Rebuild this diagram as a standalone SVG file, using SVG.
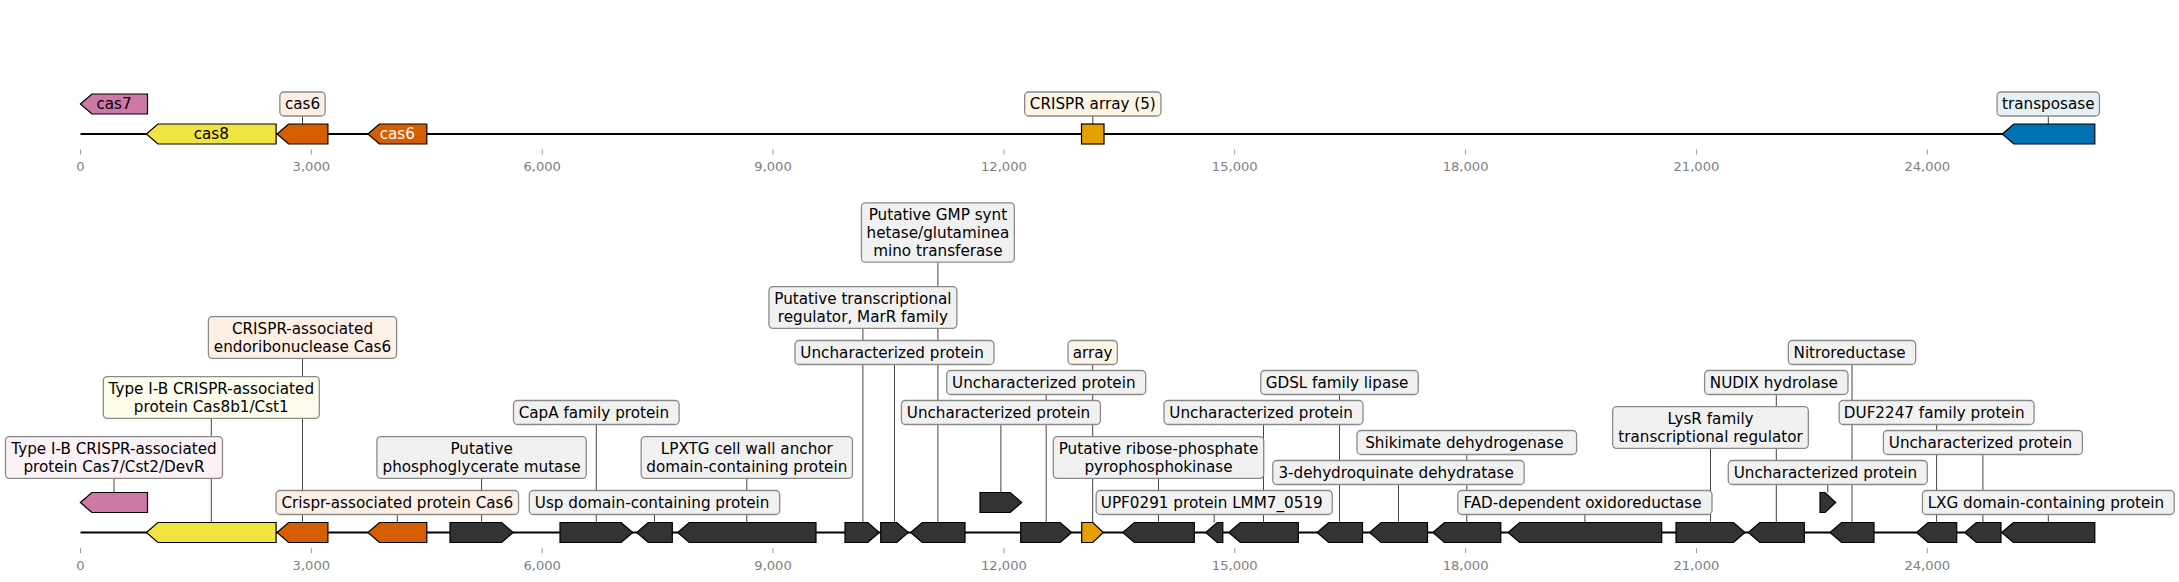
<svg xmlns="http://www.w3.org/2000/svg" width="2179" height="582" viewBox="0 0 2179 582">
<style>
.t{font-family:"DejaVu Sans",sans-serif;font-size:15.2px;fill:#000;text-anchor:middle}
.tw{font-family:"DejaVu Sans",sans-serif;font-size:15.2px;fill:#fff;text-anchor:middle}
.tk{font-family:"DejaVu Sans",sans-serif;font-size:13.1px;fill:#808080;text-anchor:middle}
.g{stroke:#000;stroke-width:1.2;stroke-linejoin:miter}
.d{fill:#333333}
.cp{fill:#CC79A7}.cy{fill:#F0E442}.cv{fill:#D55E00}.co{fill:#E69F00}.cb{fill:#0072B2}
.bx{stroke:#8a8a8a;stroke-width:1.3}
.fg{fill:#f1f1f1}.fv{fill:#fcf0e6}.fo{fill:#fcf5e6}.fp{fill:#faf2f6}.fy{fill:#fefcec}.fb{fill:#e6f1f7}
.ax{stroke:#000;stroke-width:2}
.tm{stroke:#9a9a9a;stroke-width:1}
#connectors line{stroke:#444;stroke-width:1}
</style>

<!-- axes -->
<g id="axes">
<line class="ax" x1="80.5" y1="134" x2="2094.8" y2="134"/>
<line class="ax" x1="80.5" y1="532.5" x2="2094.8" y2="532.5"/>
<g id="ticks-top">
<line class="tm" x1="80.5" y1="149.5" x2="80.5" y2="154.5"/>
<line class="tm" x1="311.35" y1="149.5" x2="311.35" y2="154.5"/>
<line class="tm" x1="542.2" y1="149.5" x2="542.2" y2="154.5"/>
<line class="tm" x1="773.05" y1="149.5" x2="773.05" y2="154.5"/>
<line class="tm" x1="1003.9" y1="149.5" x2="1003.9" y2="154.5"/>
<line class="tm" x1="1234.75" y1="149.5" x2="1234.75" y2="154.5"/>
<line class="tm" x1="1465.6" y1="149.5" x2="1465.6" y2="154.5"/>
<line class="tm" x1="1696.45" y1="149.5" x2="1696.45" y2="154.5"/>
<line class="tm" x1="1927.3" y1="149.5" x2="1927.3" y2="154.5"/>
<text class="tk" x="80.5" y="170.5">0</text>
<text class="tk" x="311.35" y="170.5">3,000</text>
<text class="tk" x="542.2" y="170.5">6,000</text>
<text class="tk" x="773.05" y="170.5">9,000</text>
<text class="tk" x="1003.9" y="170.5">12,000</text>
<text class="tk" x="1234.75" y="170.5">15,000</text>
<text class="tk" x="1465.6" y="170.5">18,000</text>
<text class="tk" x="1696.45" y="170.5">21,000</text>
<text class="tk" x="1927.3" y="170.5">24,000</text>
</g>
<g id="ticks-bottom">
<line class="tm" x1="80.5" y1="548.2" x2="80.5" y2="553.2"/>
<line class="tm" x1="311.35" y1="548.2" x2="311.35" y2="553.2"/>
<line class="tm" x1="542.2" y1="548.2" x2="542.2" y2="553.2"/>
<line class="tm" x1="773.05" y1="548.2" x2="773.05" y2="553.2"/>
<line class="tm" x1="1003.9" y1="548.2" x2="1003.9" y2="553.2"/>
<line class="tm" x1="1234.75" y1="548.2" x2="1234.75" y2="553.2"/>
<line class="tm" x1="1465.6" y1="548.2" x2="1465.6" y2="553.2"/>
<line class="tm" x1="1696.45" y1="548.2" x2="1696.45" y2="553.2"/>
<line class="tm" x1="1927.3" y1="548.2" x2="1927.3" y2="553.2"/>
<text class="tk" x="80.5" y="569.5">0</text>
<text class="tk" x="311.35" y="569.5">3,000</text>
<text class="tk" x="542.2" y="569.5">6,000</text>
<text class="tk" x="773.05" y="569.5">9,000</text>
<text class="tk" x="1003.9" y="569.5">12,000</text>
<text class="tk" x="1234.75" y="569.5">15,000</text>
<text class="tk" x="1465.6" y="569.5">18,000</text>
<text class="tk" x="1696.45" y="569.5">21,000</text>
<text class="tk" x="1927.3" y="569.5">24,000</text>
</g>
</g>

<g id="connectors">
<line x1="302.5" y1="116" x2="302.5" y2="124"/>
<line x1="1092.8" y1="116" x2="1092.8" y2="124"/>
<line x1="2048.3" y1="116" x2="2048.3" y2="124"/>
<line x1="114" y1="478.35" x2="114" y2="492.5"/>
<line x1="211.3" y1="418.35" x2="211.3" y2="522.5"/>
<line x1="302.5" y1="358.35" x2="302.5" y2="522.5"/>
<line x1="397.3" y1="514.5" x2="397.3" y2="522.5"/>
<line x1="481.6" y1="478.35" x2="481.6" y2="522.5"/>
<line x1="596.3" y1="424.5" x2="596.3" y2="522.5"/>
<line x1="654.5" y1="514.5" x2="654.5" y2="522.5"/>
<line x1="746.8" y1="478.35" x2="746.8" y2="522.5"/>
<line x1="862.9" y1="328.35" x2="862.9" y2="522.5"/>
<line x1="894.5" y1="364.5" x2="894.5" y2="522.5"/>
<line x1="937.9" y1="262.2" x2="937.9" y2="522.5"/>
<line x1="1000.9" y1="424.5" x2="1000.9" y2="492.5"/>
<line x1="1046.2" y1="394.5" x2="1046.2" y2="522.5"/>
<line x1="1092.7" y1="364.5" x2="1092.7" y2="522.5"/>
<line x1="1158.5" y1="478.35" x2="1158.5" y2="522.5"/>
<line x1="1214.2" y1="514.5" x2="1214.2" y2="522.5"/>
<line x1="1263.5" y1="424.5" x2="1263.5" y2="522.5"/>
<line x1="1339.5" y1="394.5" x2="1339.5" y2="522.5"/>
<line x1="1398.5" y1="484.5" x2="1398.5" y2="522.5"/>
<line x1="1466.8" y1="454.5" x2="1466.8" y2="522.5"/>
<line x1="1584.9" y1="514.5" x2="1584.9" y2="522.5"/>
<line x1="1710.5" y1="448.35" x2="1710.5" y2="522.5"/>
<line x1="1776.3" y1="394.5" x2="1776.3" y2="522.5"/>
<line x1="1827.8" y1="484.5" x2="1827.8" y2="492.5"/>
<line x1="1852" y1="364.5" x2="1852" y2="522.5"/>
<line x1="1936.6" y1="424.5" x2="1936.6" y2="522.5"/>
<line x1="1982.9" y1="454.5" x2="1982.9" y2="522.5"/>
<line x1="2048.3" y1="514.5" x2="2048.3" y2="522.5"/>
</g>

<!-- top track -->
<g id="top-cas7"><polygon class="g cp" points="80.4,104 91.9,94 147.5,94 147.5,114 91.9,114"/><text class="t" x="114" y="109.3">cas7</text></g>
<g id="top-cas8"><polygon class="g cy" points="146.4,134 157.9,124 276.1,124 276.1,144 157.9,144"/><text class="t" x="211.3" y="139.3">cas8</text></g>
<g id="top-cas6a"><polygon class="g cv" points="277.1,134 288.6,124 327.9,124 327.9,144 288.6,144"/><rect class="bx fv" x="279.85" y="92" width="45.3" height="24" rx="4"/><text class="t" x="302.5" y="109.3">cas6</text></g>
<g id="top-cas6b"><polygon class="g cv" points="367.9,134 379.4,124 426.8,124 426.8,144 379.4,144"/><text class="tw" x="397.3" y="139.3">cas6</text></g>
<g id="top-array"><rect class="g co" x="1081.5" y="124" width="22.5" height="20"/><rect class="bx fo" x="1024.65" y="92" width="136.3" height="24" rx="4"/><text class="t" x="1092.8" y="109.3">CRISPR array (5)</text></g>
<g id="top-transposase"><polygon class="g cb" points="2002.3,134 2013.8,124 2094.8,124 2094.8,144 2013.8,144"/><rect class="bx fb" x="1997.15" y="92" width="102.3" height="24" rx="4"/><text class="t" x="2048.3" y="109.3">transposase</text></g>

<!-- bottom track -->
<g id="g1"><polygon class="g cp" points="80.4,502.5 91.9,492.5 147.5,492.5 147.5,512.5 91.9,512.5"/><rect class="bx fp" x="5.5" y="436.65" width="217" height="41.7" rx="4"/><text class="t" x="114" y="453.95">Type I-B CRISPR-associated<tspan x="114" y="471.65">protein Cas7/Cst2/DevR</tspan></text></g>
<g id="g2"><polygon class="g cy" points="146.4,532.5 157.9,522.5 276.1,522.5 276.1,542.5 157.9,542.5"/><rect class="bx fy" x="103.3" y="376.65" width="216" height="41.7" rx="4"/><text class="t" x="211.3" y="393.95">Type I-B CRISPR-associated<tspan x="211.3" y="411.65">protein Cas8b1/Cst1</tspan></text></g>
<g id="g3"><polygon class="g cv" points="277.1,532.5 288.6,522.5 327.9,522.5 327.9,542.5 288.6,542.5"/><rect class="bx fv" x="208.4" y="316.65" width="188.2" height="41.7" rx="4"/><text class="t" x="302.5" y="333.95">CRISPR-associated<tspan x="302.5" y="351.65">endoribonuclease Cas6</tspan></text></g>
<g id="g4"><polygon class="g cv" points="367.9,532.5 379.4,522.5 426.8,522.5 426.8,542.5 379.4,542.5"/><rect class="bx fv" x="276.05" y="490.5" width="242.5" height="24" rx="4"/><text class="t" x="397.3" y="507.8">Crispr-associated protein Cas6</text></g>
<g id="g5"><polygon class="g d" points="450,522.5 501.7,522.5 513.2,532.5 501.7,542.5 450,542.5"/><rect class="bx fg" x="376.9" y="436.65" width="209.4" height="41.7" rx="4"/><text class="t" x="481.6" y="453.95">Putative<tspan x="481.6" y="471.65">phosphoglycerate mutase</tspan></text></g>
<g id="g6"><polygon class="g d" points="560,522.5 621.2,522.5 632.7,532.5 621.2,542.5 560,542.5"/><rect class="bx fg" x="513.5" y="400.5" width="165.6" height="24" rx="4"/><text class="t" x="593.9" y="417.8">CapA family protein</text></g>
<g id="g7"><polygon class="g d" points="636.7,532.5 648.2,522.5 672.3,522.5 672.3,542.5 648.2,542.5"/><rect class="bx fg" x="529.3" y="490.5" width="250.4" height="24" rx="4"/><text class="t" x="652.1" y="507.8">Usp domain-containing protein</text></g>
<g id="g8"><polygon class="g d" points="677.7,532.5 689.2,522.5 816,522.5 816,542.5 689.2,542.5"/><rect class="bx fg" x="641.15" y="436.65" width="211.3" height="41.7" rx="4"/><text class="t" x="746.8" y="453.95">LPXTG cell wall anchor<tspan x="746.8" y="471.65">domain-containing protein</tspan></text></g>
<g id="g9"><polygon class="g d" points="845,522.5 867.8,522.5 879.3,532.5 867.8,542.5 845,542.5"/><rect class="bx fg" x="768.95" y="286.65" width="187.9" height="41.7" rx="4"/><text class="t" x="862.9" y="303.95">Putative transcriptional<tspan x="862.9" y="321.65">regulator, MarR family</tspan></text></g>
<g id="g10"><polygon class="g d" points="880.7,522.5 896.8,522.5 908.3,532.5 896.8,542.5 880.7,542.5"/><rect class="bx fg" x="795" y="340.5" width="199" height="24" rx="4"/><text class="t" x="892.1" y="357.8">Uncharacterized protein</text></g>
<g id="g11"><polygon class="g d" points="910.7,532.5 922.2,522.5 965,522.5 965,542.5 922.2,542.5"/><rect class="bx fg" x="861.45" y="202.8" width="152.9" height="59.4" rx="4"/><text class="t" x="937.9" y="220.1">Putative GMP synt<tspan x="937.9" y="237.8">hetase/glutaminea</tspan><tspan x="937.9" y="255.5">mino transferase</tspan></text></g>
<g id="g12"><polygon class="g d" points="980,492.5 1010.2,492.5 1021.7,502.5 1010.2,512.5 980,512.5"/><rect class="bx fg" x="901.4" y="400.5" width="199" height="24" rx="4"/><text class="t" x="998.5" y="417.8">Uncharacterized protein</text></g>
<g id="g13"><polygon class="g d" points="1020.7,522.5 1060.2,522.5 1071.7,532.5 1060.2,542.5 1020.7,542.5"/><rect class="bx fg" x="946.7" y="370.5" width="199" height="24" rx="4"/><text class="t" x="1043.8" y="387.8">Uncharacterized protein</text></g>
<g id="g14"><polygon class="g co" points="1081.7,522.5 1092.8,522.5 1103.3,532.5 1092.8,542.5 1081.7,542.5"/><rect class="bx fo" x="1068.05" y="340.5" width="49.3" height="24" rx="4"/><text class="t" x="1092.7" y="357.8">array</text></g>
<g id="g15"><polygon class="g d" points="1122.8,532.5 1134.3,522.5 1194.3,522.5 1194.3,542.5 1134.3,542.5"/><rect class="bx fg" x="1053.3" y="436.65" width="210.4" height="41.7" rx="4"/><text class="t" x="1158.5" y="453.95">Putative ribose-phosphate<tspan x="1158.5" y="471.65">pyrophosphokinase</tspan></text></g>
<g id="g16"><polygon class="g d" points="1205.7,532.5 1217.2,522.5 1222.8,522.5 1222.8,542.5 1217.2,542.5"/><rect class="bx fg" x="1096.15" y="490.5" width="236.1" height="24" rx="4"/><text class="t" x="1211.8" y="507.8">UPF0291 protein LMM7_0519</text></g>
<g id="g17"><polygon class="g d" points="1228.8,532.5 1240.3,522.5 1298.3,522.5 1298.3,542.5 1240.3,542.5"/><rect class="bx fg" x="1164" y="400.5" width="199" height="24" rx="4"/><text class="t" x="1261.1" y="417.8">Uncharacterized protein</text></g>
<g id="g18"><polygon class="g d" points="1317.1,532.5 1328.6,522.5 1362.5,522.5 1362.5,542.5 1328.6,542.5"/><rect class="bx fg" x="1260.75" y="370.5" width="157.5" height="24" rx="4"/><text class="t" x="1337.1" y="387.8">GDSL family lipase</text></g>
<g id="g19"><polygon class="g d" points="1369.6,532.5 1381.1,522.5 1427.5,522.5 1427.5,542.5 1381.1,542.5"/><rect class="bx fg" x="1272.8" y="460.5" width="251.4" height="24" rx="4"/><text class="t" x="1396.1" y="477.8">3-dehydroquinate dehydratase</text></g>
<g id="g20"><polygon class="g d" points="1432.9,532.5 1444.4,522.5 1500.8,522.5 1500.8,542.5 1444.4,542.5"/><rect class="bx fg" x="1357" y="430.5" width="219.6" height="24" rx="4"/><text class="t" x="1464.4" y="447.8">Shikimate dehydrogenase</text></g>
<g id="g21"><polygon class="g d" points="1508.1,532.5 1519.6,522.5 1661.7,522.5 1661.7,542.5 1519.6,542.5"/><rect class="bx fg" x="1457.8" y="490.5" width="254.2" height="24" rx="4"/><text class="t" x="1582.5" y="507.8">FAD-dependent oxidoreductase</text></g>
<g id="g22"><polygon class="g d" points="1676,522.5 1733.5,522.5 1745,532.5 1733.5,542.5 1676,542.5"/><rect class="bx fg" x="1612.65" y="406.65" width="195.7" height="41.7" rx="4"/><text class="t" x="1710.5" y="423.95">LysR family<tspan x="1710.5" y="441.65">transcriptional regulator</tspan></text></g>
<g id="g23"><polygon class="g d" points="1748.3,532.5 1759.8,522.5 1804.3,522.5 1804.3,542.5 1759.8,542.5"/><rect class="bx fg" x="1704.6" y="370.5" width="143.4" height="24" rx="4"/><text class="t" x="1773.9" y="387.8">NUDIX hydrolase</text></g>
<g id="g24"><polygon class="g d" points="1820,492.5 1825,492.5 1835.7,502.5 1825,512.5 1820,512.5"/><rect class="bx fg" x="1728.3" y="460.5" width="199" height="24" rx="4"/><text class="t" x="1825.4" y="477.8">Uncharacterized protein</text></g>
<g id="g25"><polygon class="g d" points="1830,532.5 1841.5,522.5 1874,522.5 1874,542.5 1841.5,542.5"/><rect class="bx fg" x="1788.35" y="340.5" width="127.3" height="24" rx="4"/><text class="t" x="1849.6" y="357.8">Nitroreductase</text></g>
<g id="g26"><polygon class="g d" points="1916.6,532.5 1928.1,522.5 1956.7,522.5 1956.7,542.5 1928.1,542.5"/><rect class="bx fg" x="1839.15" y="400.5" width="194.9" height="24" rx="4"/><text class="t" x="1934.2" y="417.8">DUF2247 family protein</text></g>
<g id="g27"><polygon class="g d" points="1964.8,532.5 1976.3,522.5 2001,522.5 2001,542.5 1976.3,542.5"/><rect class="bx fg" x="1883.4" y="430.5" width="199" height="24" rx="4"/><text class="t" x="1980.5" y="447.8">Uncharacterized protein</text></g>
<g id="g28"><polygon class="g d" points="2001.8,532.5 2013.3,522.5 2094.8,522.5 2094.8,542.5 2013.3,542.5"/><rect class="bx fg" x="1922.4" y="490.5" width="251.8" height="24" rx="4"/><text class="t" x="2045.9" y="507.8">LXG domain-containing protein</text></g>
</svg>
